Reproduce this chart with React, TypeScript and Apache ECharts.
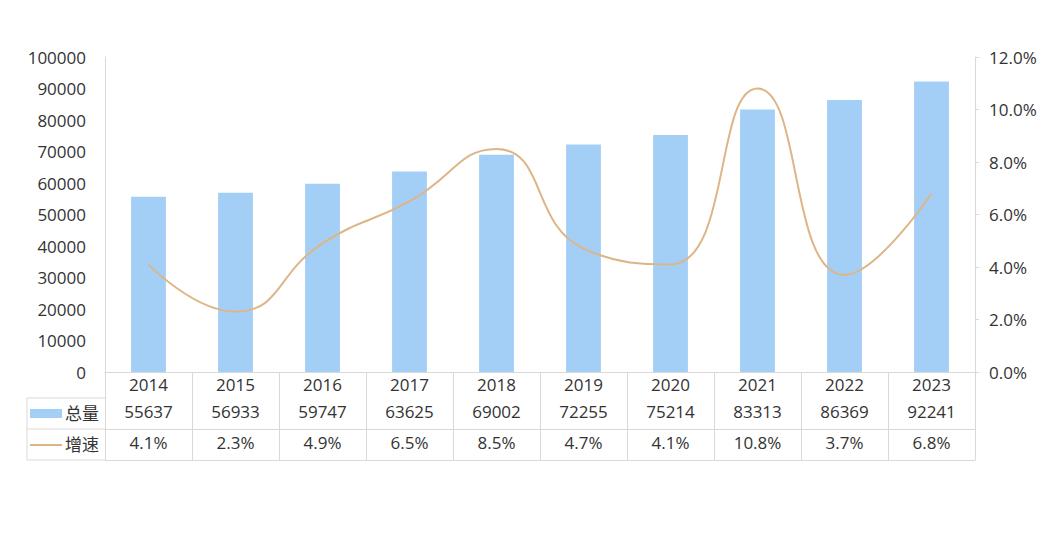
import React, { useEffect, useRef } from "react";
import * as echarts from "echarts";

const years = ["2014", "2015", "2016", "2017", "2018", "2019", "2020", "2021", "2022", "2023"];
const totals = [55637, 56933, 59747, 63625, 69002, 72255, 75214, 83313, 86369, 92241];
const growth = [4.1, 2.3, 4.9, 6.5, 8.5, 4.7, 4.1, 10.8, 3.7, 6.8];
const leftTicks = { min: 0, max: 100000, interval: 10000 };
const rightTicks = { min: 0, max: 12, interval: 2 };
const seriesNames = ["总量", "增速"];

const FONT = "'Open Sans', 'Noto Sans CJK SC', sans-serif";
const TXT = "#333333";
const LINE = "#d9d9d9";
const BAR = "#a3cff7";
const ORANGE = "#deb587";

export default function App() {
  const ref = useRef<HTMLDivElement>(null);
  useEffect(() => {
    if (!ref.current) return;
    const chart = echarts.init(ref.current, undefined, { renderer: "svg" });
    const GL = 105, GR = 975, GT = 57, GB = 372;
    const rowY = [372, 398, 429, 460];
    const axisStyle = { color: TXT, fontSize: 17, fontFamily: FONT };
    const tableStyle = { color: TXT, fontSize: 17, fontFamily: FONT };
    chart.setOption({
      animation: false,
      backgroundColor: "#fff",
      grid: { left: GL, right: 1048 - GR, top: GT, bottom: 542 - GB, containLabel: false },
      legend: { show: false, data: seriesNames },
      xAxis: [
        {
          type: "category",
          data: years,
          position: "bottom",
          axisLine: { lineStyle: { color: LINE } },
          axisTick: { show: true, length: rowY[3] - rowY[0], lineStyle: { color: LINE } },
          axisLabel: { ...tableStyle, margin: 4 },
        },
        {
          type: "category",
          data: totals.map(String),
          position: "bottom",
          offset: rowY[1] - rowY[0],
          axisLine: { lineStyle: { color: LINE } },
          axisTick: { show: false },
          axisLabel: { ...tableStyle, margin: 5 },
        },
        {
          type: "category",
          data: growth.map((g) => g.toFixed(1) + "%"),
          position: "bottom",
          offset: rowY[2] - rowY[0],
          axisLine: { lineStyle: { color: LINE } },
          axisTick: { show: false },
          axisLabel: { ...tableStyle, margin: 5 },
        },
        {
          type: "category",
          data: years,
          position: "bottom",
          offset: rowY[3] - rowY[0],
          axisLine: { lineStyle: { color: LINE } },
          axisTick: { show: false },
          axisLabel: { show: false },
        },
      ],
      yAxis: [
        {
          type: "value",
          ...leftTicks,
          axisLine: { show: true, lineStyle: { color: LINE } },
          axisTick: { show: false },
          splitLine: { show: false },
          axisLabel: { ...axisStyle, margin: 19, formatter: (v: number) => String(v) },
        },
        {
          type: "value",
          ...rightTicks,
          position: "right",
          axisLine: { show: true, lineStyle: { color: LINE } },
          axisTick: { show: true, length: 4, lineStyle: { color: LINE } },
          splitLine: { show: false },
          axisLabel: { ...axisStyle, margin: 14, formatter: (v: number) => v.toFixed(1) + "%" },
        },
      ],
      series: [
        {
          name: seriesNames[0],
          type: "bar",
          data: totals,
          barWidth: "40%",
          itemStyle: { color: BAR },
        },
        {
          name: seriesNames[1],
          type: "line",
          yAxisIndex: 1,
          data: growth,
          smooth: 0.5,
          symbol: "none",
          lineStyle: { color: ORANGE, width: 2 },
          itemStyle: { color: ORANGE },
        },
      ],
      graphic: [
        { type: "line", shape: { x1: 27, y1: rowY[1], x2: GL, y2: rowY[1] }, style: { stroke: LINE, lineWidth: 1 } },
        { type: "line", shape: { x1: 27, y1: rowY[2], x2: GL, y2: rowY[2] }, style: { stroke: LINE, lineWidth: 1 } },
        { type: "line", shape: { x1: 27, y1: rowY[3], x2: GL, y2: rowY[3] }, style: { stroke: LINE, lineWidth: 1 } },
        { type: "line", shape: { x1: 27, y1: rowY[1], x2: 27, y2: rowY[3] }, style: { stroke: LINE, lineWidth: 1 } },
        { type: "rect", shape: { x: 30, y: 409, width: 32, height: 9 }, style: { fill: BAR } },
        { type: "line", shape: { x1: 30, y1: 445, x2: 62, y2: 445 }, style: { stroke: ORANGE, lineWidth: 2 } },
        {
          type: "text",
          x: 65,
          y: 413.5,
          style: { text: seriesNames[0], fill: TXT, font: `17px ${FONT}`, verticalAlign: "middle", align: "left" },
        },
        {
          type: "text",
          x: 65,
          y: 444.5,
          style: { text: seriesNames[1], fill: TXT, font: `17px ${FONT}`, verticalAlign: "middle", align: "left" },
        },
      ],
    });
    return () => chart.dispose();
  }, []);
  return <div ref={ref} style={{ position: "fixed", left: 0, top: 0, width: 1048, height: 542 }} />;
}
